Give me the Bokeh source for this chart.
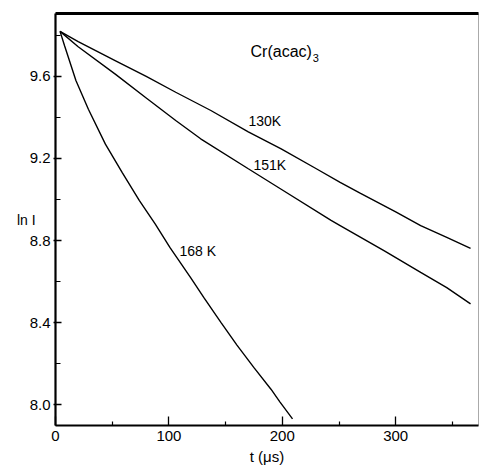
from bokeh.plotting import figure
from bokeh.models import FixedTicker, PrintfTickFormatter, Label, LinearAxis
from bokeh.embed import file_html
from bokeh.resources import INLINE

# ---- data ----
t130 = [4, 20, 53, 80, 106, 137, 170, 199, 230, 251, 269, 300, 322, 345, 366]
ln130 = [9.82, 9.77, 9.676, 9.60, 9.523, 9.434, 9.33, 9.247, 9.15, 9.084, 9.03, 8.94, 8.873, 8.815, 8.762]

t151 = [4, 20, 53, 80, 106, 128, 170, 199, 243, 251, 290, 322, 345, 366]
ln151 = [9.82, 9.745, 9.61, 9.495, 9.385, 9.296, 9.15, 9.05, 8.898, 8.873, 8.75, 8.645, 8.57, 8.491]

t168 = [4, 8, 18, 29, 44, 59, 74, 88, 101, 119, 131, 146, 160, 175, 190, 198, 209]
ln168 = [9.82, 9.75, 9.58, 9.44, 9.27, 9.13, 8.995, 8.88, 8.765, 8.62, 8.52, 8.40, 8.29, 8.18, 8.075, 8.012, 7.93]

x_major = [0, 100, 200, 300]
x_minor = [50, 150, 250, 350]
y_major = [8.0, 8.4, 8.8, 9.2, 9.6]
y_minor = [8.2, 8.6, 9.0, 9.4, 9.8]

FONT = "Liberation Sans"

p = figure(width=481, height=469, output_backend="svg", toolbar_location=None,
           x_range=(0, 373), y_range=(7.898, 9.907),
           min_border_left=55, min_border_right=3, min_border_top=13, min_border_bottom=44)
p.background_fill_color = "white"
p.border_fill_color = "white"
p.grid.visible = False
p.outline_line_color = "#aaaaaa"
p.outline_line_width = 1

for tt, yy in [(t130, ln130), (t151, ln151), (t168, ln168)]:
    p.line(tt, yy, line_color="black", line_width=1.4)

bx = p.below[0]
ly = p.left[0]

# axes
bx.ticker = FixedTicker(ticks=x_major, minor_ticks=x_minor)
ly.ticker = FixedTicker(ticks=y_major, minor_ticks=y_minor)
bx.formatter = PrintfTickFormatter(format="%d")
ly.formatter = PrintfTickFormatter(format="%.1f")
for ax in (bx, ly):
    ax.axis_line_color = "black"
    ax.axis_line_width = 2.2
    ax.major_tick_line_color = "black"
    ax.minor_tick_line_color = "black"
    ax.major_tick_line_width = 1.3
    ax.minor_tick_line_width = 1.2
    ax.major_label_text_font = FONT
    ax.major_label_text_font_size = "15px"
    ax.major_label_text_color = "black"
    ax.axis_label_text_font = FONT
    ax.axis_label_text_font_style = "normal"
    ax.axis_label_text_color = "black"
bx.major_tick_in = 9
bx.major_tick_out = 0
bx.minor_tick_in = 4
bx.minor_tick_out = 0
bx.major_label_standoff = 5
bx.axis_label = "t (μs)"
bx.axis_label_text_font_size = "15px"
bx.axis_label_standoff = 4
bx.axis_label_text_align = "left"

ly.major_tick_in = 6
ly.major_tick_out = 2
ly.minor_tick_in = 5
ly.minor_tick_out = 0
ly.major_label_standoff = 3
ly.axis_label = "ln I"
ly.axis_label_orientation = "horizontal"
ly.axis_label_text_font_size = "14px"
ly.axis_label_standoff = -9

# top border as an empty axis
top = LinearAxis(ticker=FixedTicker(ticks=[]), major_label_text_font_size="0px",
                 major_tick_out=0, major_tick_in=0, minor_tick_out=0, minor_tick_in=0,
                 major_label_standoff=0, axis_line_width=2.8, axis_line_color="black")
p.add_layout(top, "above")

def lab(x, y, text, size="14px", align="left"):
    p.add_layout(Label(x=x, y=y, text=text, text_font=FONT, text_font_size=size,
                       text_color="black", text_align=align, text_baseline="middle"))

lab(172, 9.72, "Cr(acac)", "16px")
lab(226.9, 9.69, "3", "11px")
lab(170.2, 9.385, "130K")
lab(174.6, 9.166, "151K")
lab(109.3, 8.751, "168 K")

open("out.html", "w").write(file_html(p, INLINE))
